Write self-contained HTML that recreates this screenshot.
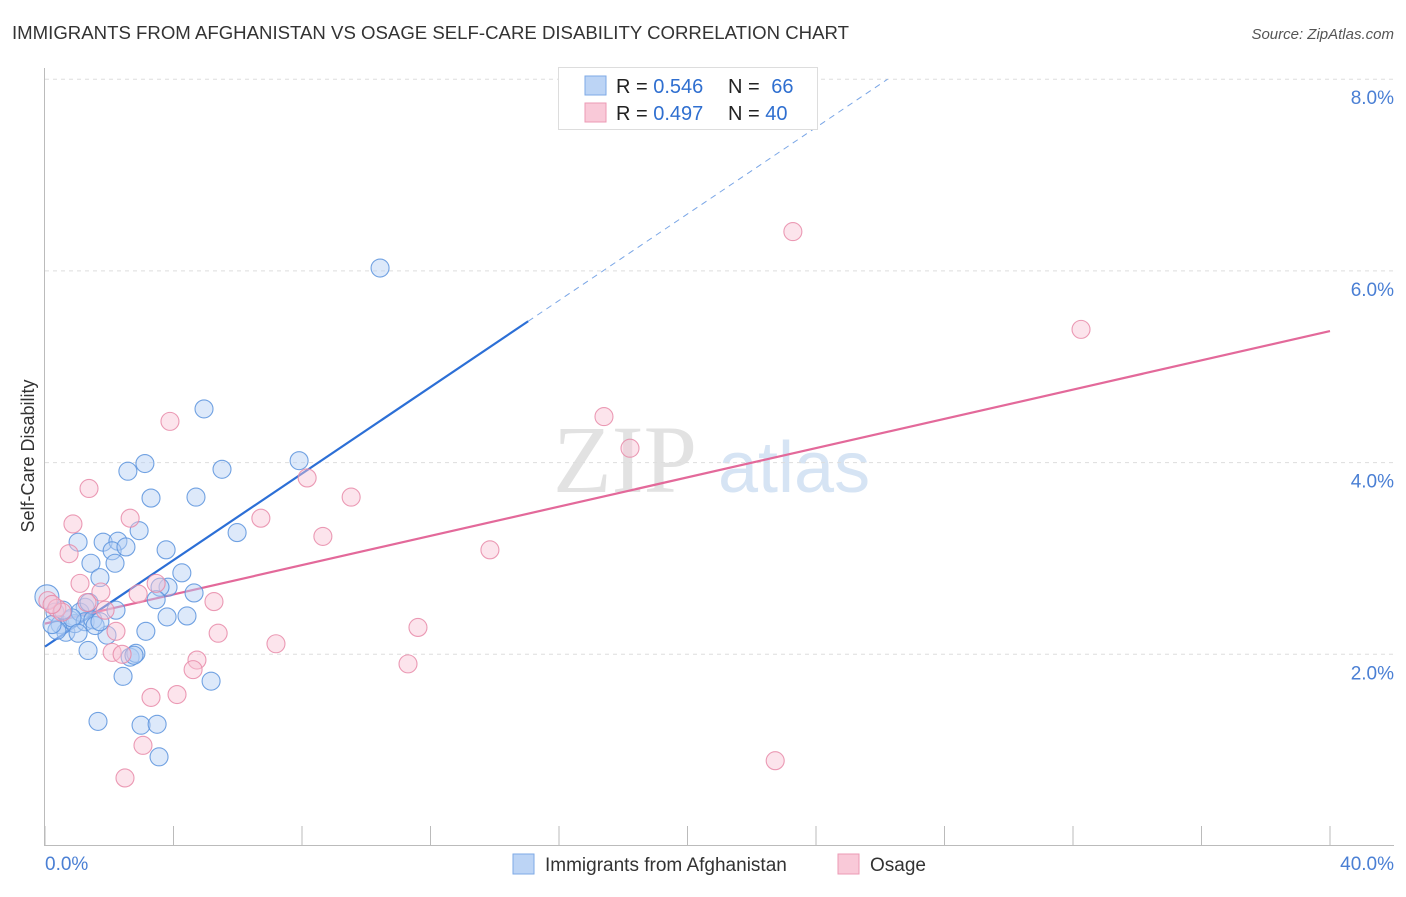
<!DOCTYPE html>
<html><head><meta charset="utf-8"><style>
body{margin:0;background:#fff;font-family:"Liberation Sans",sans-serif;}
</style></head><body>
<svg id="chart" width="1406" height="892" viewBox="0 0 1406 892" xmlns="http://www.w3.org/2000/svg" font-family="Liberation Sans, sans-serif">
<text x="12" y="39" font-size="18" fill="#333" textLength="837" lengthAdjust="spacingAndGlyphs">IMMIGRANTS FROM AFGHANISTAN VS OSAGE SELF-CARE DISABILITY CORRELATION CHART</text>
<text x="1394" y="39" font-size="15" fill="#555" text-anchor="end" font-style="italic">Source: ZipAtlas.com</text>
<g>
<text x="553" y="492" font-size="96" fill="#e2e2e2" style="font-family:'Liberation Serif',serif">ZIP</text>
<text x="718" y="492" font-size="72" fill="#d6e4f4">atlas</text>
</g>
<g id="grid"></g>
<line x1="44.5" y1="68" x2="44.5" y2="846" stroke="#bbb"/>
<line x1="44" y1="845.5" x2="1394" y2="845.5" stroke="#bbb"/>
<g id="ticks"></g>
<text transform="translate(34,456) rotate(-90)" font-size="18" fill="#333" text-anchor="middle">Self-Care Disability</text>
<text x="45" y="870" font-size="19" fill="#4a7fd4">0.0%</text>
<text x="1394" y="870" font-size="19" fill="#4a7fd4" text-anchor="end">40.0%</text>
<g id="lines"></g>
<g id="points"></g>
<g>
<rect x="558.5" y="67.5" width="259" height="62" fill="#fff" stroke="#ddd"/>
<rect x="585" y="76" width="21" height="19" fill="#bcd4f5" stroke="#7eaae6"/>
<rect x="585" y="103" width="21" height="19" fill="#f9c9d8" stroke="#ec9ab4"/>
<text x="616" y="93" font-size="20" fill="#222">R = <tspan fill="#2f6fd0">0.546</tspan></text>
<text x="728" y="93" font-size="20" fill="#222">N = <tspan fill="#2f6fd0" dx="6">66</tspan></text>
<text x="616" y="120" font-size="20" fill="#222">R = <tspan fill="#2f6fd0">0.497</tspan></text>
<text x="728" y="120" font-size="20" fill="#222">N = <tspan fill="#2f6fd0">40</tspan></text>
</g>
<g>
<rect x="513" y="854" width="21" height="20" fill="#bcd4f5" stroke="#7eaae6"/>
<text x="545" y="871" font-size="19" fill="#333">Immigrants from Afghanistan</text>
<rect x="838" y="854" width="21" height="20" fill="#f9c9d8" stroke="#ec9ab4"/>
<text x="870" y="871" font-size="19" fill="#333">Osage</text>
</g>
</svg>
<script>
const yTicks=[2,4,6,8];
const yTickLabels=["2.0%","4.0%","6.0%","8.0%"];
const xTicks=[0,4,8,12,16,20,24,28,32,36,40];
const blueX=[10.43,4.95,3.11,2.58,5.51,7.91,3.30,4.70,5.98,2.93,1.03,1.81,2.27,2.09,2.52,3.77,1.43,2.18,1.71,4.26,3.83,3.58,4.64,3.46,4.42,3.80,2.21,1.25,3.14,1.93,1.34,2.65,2.83,2.77,2.43,5.17,1.65,2.99,3.49,3.55,0.06,0.31,0.47,0.65,0.78,0.93,1.09,1.25,1.49,1.56,0.37,0.22,0.84,0.56,1.71,1.37,1.03];
const blueY=[6.03,4.56,3.99,3.91,3.93,4.02,3.63,3.64,3.27,3.29,3.17,3.17,3.18,3.08,3.12,3.09,2.95,2.95,2.80,2.85,2.70,2.70,2.64,2.57,2.40,2.39,2.46,2.49,2.24,2.20,2.04,1.97,2.01,1.99,1.77,1.72,1.30,1.26,1.27,0.93,2.60,2.44,2.31,2.23,2.36,2.32,2.44,2.34,2.36,2.30,2.25,2.31,2.38,2.46,2.34,2.54,2.22];
const pinkX=[23.28,32.25,17.40,18.21,3.89,1.37,8.16,9.53,0.87,2.65,6.72,8.65,13.85,0.75,1.09,3.46,1.74,2.90,5.26,0.09,0.37,1.31,1.87,11.61,5.39,2.21,7.19,2.09,2.40,4.73,4.61,11.30,3.30,4.11,3.05,2.49,22.73,0.53,0.22];
const pinkY=[6.41,5.39,4.48,4.15,4.43,3.73,3.84,3.64,3.36,3.42,3.42,3.23,3.09,3.05,2.74,2.74,2.65,2.63,2.55,2.56,2.48,2.54,2.46,2.28,2.22,2.24,2.11,2.02,2.00,1.94,1.84,1.90,1.55,1.58,1.05,0.71,0.89,2.44,2.52];
const blueTrend=[2.08,0.2257];
const pinkTrend=[2.32,0.0763];
const NS="http://www.w3.org/2000/svg";
const X=v=>45+v/40*1285;
const Y=v=>846-v/2*191.7;
function mk(tag,attrs,parent){const e=document.createElementNS(NS,tag);for(const k in attrs)e.setAttribute(k,attrs[k]);document.getElementById(parent).appendChild(e);return e;}
yTicks.forEach((t,i)=>{
 const l=mk('line',{x1:45,x2:1394,y1:Y(t),y2:Y(t),stroke:'#ddd','stroke-dasharray':'4,4'},'grid');
 
 
 const tx=mk('text',{x:1394,y:Y(t)+25,'font-size':19,fill:'#4a7fd4','text-anchor':'end'},'grid');
 tx.textContent=yTickLabels[i];
 
 
});
xTicks.forEach(t=>{
 const l=mk('line',{x1:X(t),x2:X(t),y1:826,y2:846,stroke:'#bbb'},'ticks');
 
 
});
function pts(xs,ys,fill,stroke,name){
 xs.forEach((x,i)=>{
  const c=mk('circle',{cx:X(x),cy:Y(ys[i]),r:(i==40&&name=='blue-point')?12:9,fill:fill,'fill-opacity':0.45,stroke:stroke,'stroke-width':1.1,'stroke-opacity':0.85},'points');
  
  
 });
}
pts(blueX,blueY,'#b4cff3','#5b93dd','blue-point');
pts(pinkX,pinkY,'#f8c4d4','#e88aa8','pink-point');
const bEnd=15.04, bDash=(8.0-blueTrend[0])/blueTrend[1];
const b1=mk('line',{x1:X(0),y1:Y(blueTrend[0]),x2:X(bEnd),y2:Y(blueTrend[0]+blueTrend[1]*bEnd),stroke:'#2c6fd6','stroke-width':2.2},'lines');


const b2=mk('line',{x1:X(bEnd),y1:Y(blueTrend[0]+blueTrend[1]*bEnd),x2:X(bDash),y2:Y(8.0),stroke:'#7aa6e6','stroke-width':1,'stroke-dasharray':'6,5'},'lines');


const p1=mk('line',{x1:X(0),y1:Y(pinkTrend[0]),x2:X(40),y2:Y(pinkTrend[0]+pinkTrend[1]*40),stroke:'#e3699a','stroke-width':2.2},'lines');


</script>
</body></html>
